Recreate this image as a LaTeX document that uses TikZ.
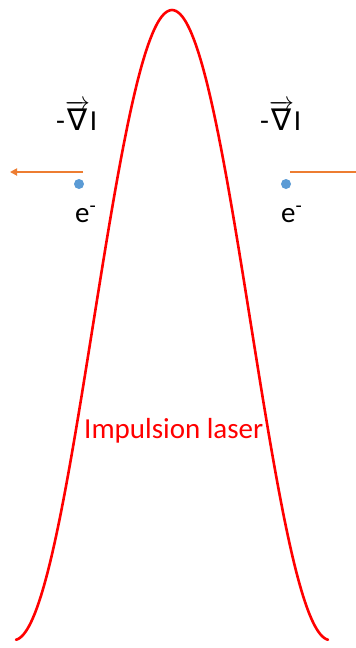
\documentclass[tikz,border=0pt]{standalone}
\usepackage{fontspec}
\setmainfont{Carlito}
\newfontfamily\dejavu{DejaVu Sans}
\usetikzlibrary{arrows.meta}
\definecolor{pulsered}{RGB}{255,0,0}
\definecolor{forceorange}{RGB}{237,125,49}
\definecolor{electronblue}{RGB}{91,155,213}
\newcommand{\gradI}{-$\overrightarrow{\hbox{\dejavu\fontsize{30}{34}\selectfont ∇}}$I}
\tikzset{
  lbl/.style={inner sep=0pt, anchor=base west, font=\fontsize{29}{34}\selectfont},
  force/.style={draw=forceorange, line width=2pt, -{Triangle[length=7pt,width=7pt]}},
  electron/.style={circle, fill=electronblue, inner sep=0pt, minimum size=10pt},
  pulse/.style={draw=pulsered, line width=2.6pt, line cap=round}
}
\begin{document}
\begin{tikzpicture}[x=1pt,y=-1pt]
\clip (0,0) rectangle (356,648);
\fill[white] (0,0) rectangle (356,648);
% pulse envelope
\draw[pulse] plot[domain=-156:156, samples=241, smooth] ({172+\x}, {640-630*(cos(\x*90/158))^2});
% labels
\node[lbl, text=pulsered] (las) at (84,438) {Impulsion laser};
\node[lbl] (gl) at (56,130) {\gradI};
\node[lbl] (gr) at (260,130) {\gradI};
\node[lbl] (el) at (75,222) {e\textsuperscript{-}};
\node[lbl] (er) at (281,222) {e\textsuperscript{-}};
% electrons
\node[electron] (dl) at (79,184) {};
\node[electron] (dr) at (286,184) {};
% force arrows
\coordinate (al0) at (83,172);
\coordinate (al1) at (10,172);
\coordinate (ar0) at (290,172);
\coordinate (ar1) at (364,172);
\draw[force] (al0) -- (al1);
\draw[force] (ar0) -- (ar1);
\end{tikzpicture}
\end{document}
